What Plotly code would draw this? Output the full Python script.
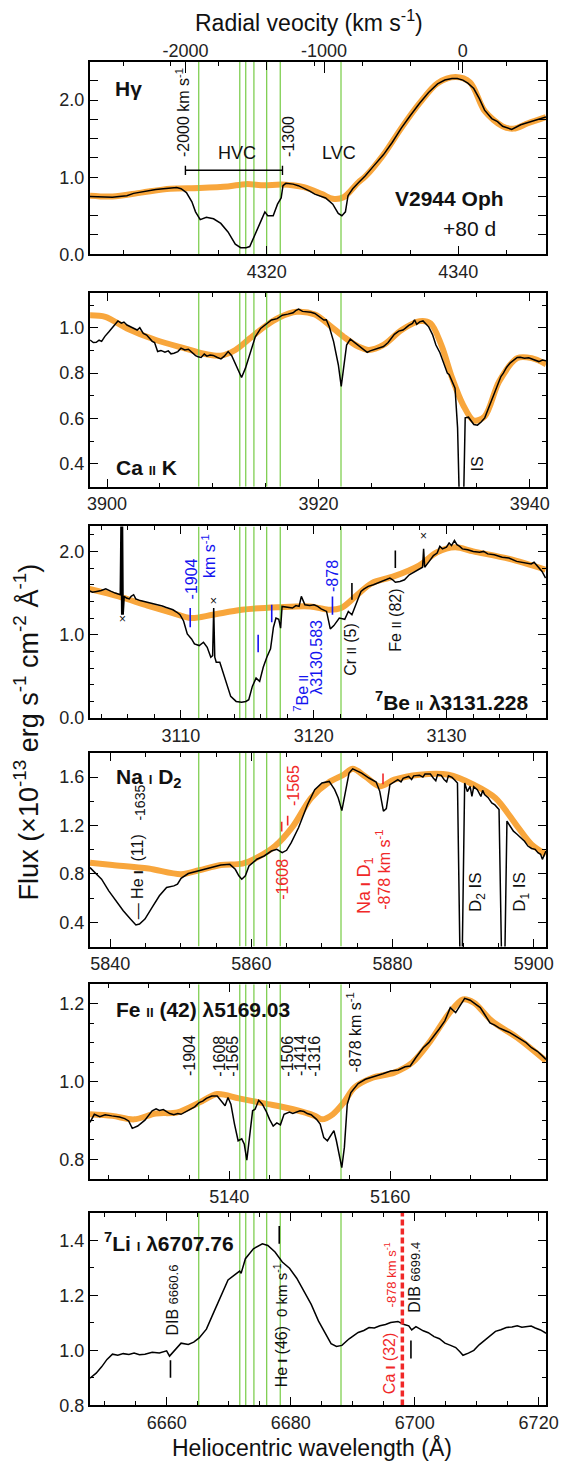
import plotly.graph_objects as go

C_KMS = 299792.458
VEL_RANGE = [-2688.0, 600.0]
HVC_VELS = [-1904, -1608, -1565, -1506, -1414, -1316, -878]
TOP_VEL_TICKS = [-2000, -1000, 0]

# ---------------- H gamma ----------------
hg_rest = 4340.47
hg_w = [4301.55, 4302.70, 4303.89, 4304.60, 4305.40, 4306.10, 4306.91, 4307.60, 4308.42, 4309.20,
        4310.11, 4310.60, 4311.06, 4311.62, 4312.19, 4312.57, 4313.06, 4313.70, 4314.45, 4315.21,
        4315.96, 4316.72, 4317.28, 4317.85, 4318.23, 4318.79, 4319.36, 4319.81, 4320.11, 4320.68,
        4321.13, 4321.51, 4321.70, 4322.00, 4322.75, 4323.30, 4323.88, 4324.50, 4325.02, 4325.60,
        4326.15, 4326.90, 4327.47, 4327.85, 4328.22, 4328.49, 4328.98, 4329.60, 4330.30, 4331.20,
        4332.18, 4333.10, 4334.07, 4335.00, 4335.96, 4336.90, 4337.84, 4338.60, 4339.35, 4339.90,
        4340.48, 4341.00, 4341.62, 4342.20, 4342.75, 4343.50, 4344.10, 4344.63, 4345.58, 4346.52,
        4347.30, 4348.03, 4349.16]
hg_f = [0.75, 0.745, 0.74, 0.75, 0.76, 0.79, 0.81, 0.825, 0.84, 0.85,
        0.86, 0.865, 0.85, 0.80, 0.68, 0.55, 0.45, 0.48, 0.46, 0.40,
        0.29, 0.13, 0.085, 0.085, 0.10, 0.25, 0.42, 0.55, 0.50, 0.50,
        0.65, 0.73, 0.89, 0.92, 0.91, 0.89, 0.86, 0.82, 0.78, 0.755,
        0.73, 0.65, 0.53, 0.50, 0.55, 0.76, 0.85, 0.93, 1.02, 1.15,
        1.29, 1.45, 1.64, 1.80, 1.96, 2.10, 2.21, 2.26, 2.28, 2.28,
        2.26, 2.22, 2.15, 2.02, 1.87, 1.76, 1.72, 1.66, 1.62, 1.68,
        1.71, 1.74, 1.78]
hg_cw = [4301.55, 4303.89, 4306.91, 4309.93, 4312.94, 4315.96, 4317.85, 4319.73, 4321.62, 4323.88,
         4325.77, 4326.90, 4328.03, 4329.54, 4330.30, 4332.18, 4334.07, 4335.96, 4337.84, 4339.73,
         4341.24, 4342.75, 4344.63, 4345.77, 4347.28, 4349.16]
hg_cf = [0.76, 0.75, 0.80, 0.85, 0.86, 0.88, 0.91, 0.895, 0.905, 0.87,
         0.78, 0.72, 0.74, 0.93, 1.01, 1.29, 1.64, 1.96, 2.22, 2.30,
         2.23, 1.86, 1.66, 1.63, 1.70, 1.78]

# ---------------- Ca II K ----------------
cak_rest = 3933.66
cak_w = [3898.40, 3898.70, 3898.98, 3899.25, 3899.49, 3899.80, 3900.18, 3900.55, 3901.03, 3901.35,
         3901.60, 3901.89, 3902.20, 3902.57, 3902.85, 3903.10, 3903.43, 3903.75, 3904.00, 3904.28,
         3904.50, 3904.79, 3905.10, 3905.48, 3905.80, 3906.05, 3906.33, 3906.70, 3907.00, 3907.36,
         3907.70, 3908.05, 3908.38, 3908.62, 3908.90, 3909.20, 3909.45, 3909.75, 3910.05, 3910.40,
         3910.78, 3911.10, 3911.46, 3911.80, 3912.05, 3912.32, 3912.73, 3913.10, 3913.51, 3914.03,
         3914.54, 3915.00, 3915.56, 3916.10, 3916.59, 3917.10, 3917.61, 3917.85, 3918.13, 3918.50,
         3918.98, 3919.30, 3919.67, 3920.10, 3920.52, 3920.75, 3921.03, 3921.44, 3921.89, 3922.16,
         3922.40, 3922.67, 3923.02, 3923.30, 3923.60, 3924.11, 3924.40, 3924.62, 3924.90, 3925.14,
         3925.60, 3926.16, 3926.60, 3926.90, 3927.19, 3927.60, 3928.00, 3928.21, 3928.55, 3928.90,
         3929.10, 3929.30, 3929.58, 3929.90, 3930.10, 3930.44, 3930.80, 3931.12, 3931.50, 3931.80,
         3932.10, 3932.20, 3932.38, 3932.93, 3933.17, 3933.41, 3933.68, 3933.89, 3934.20, 3934.71,
         3935.05, 3935.40, 3935.74, 3936.20, 3936.59, 3937.00, 3937.27, 3937.50, 3937.80, 3938.13,
         3938.50, 3938.81, 3939.10, 3939.50, 3939.90, 3940.35, 3940.60, 3940.86, 3941.20, 3941.55]
cak_f = [0.946, 0.935, 0.936, 0.945, 0.94, 0.962, 0.982, 1.005, 1.03, 1.02,
         1.025, 1.012, 1.005, 0.997, 0.99, 1.0, 0.975, 0.968, 0.955, 0.94,
         0.935, 0.895, 0.9, 0.892, 0.898, 0.885, 0.888, 0.895, 0.91, 0.902,
         0.905, 0.89, 0.877, 0.872, 0.869, 0.884, 0.875, 0.88, 0.878, 0.87,
         0.863, 0.875, 0.895, 0.877, 0.85, 0.822, 0.781, 0.822, 0.888, 0.96,
         0.997, 1.015, 1.034, 1.04, 1.055, 1.06, 1.066, 1.075, 1.082, 1.072,
         1.07, 1.068, 1.063, 1.05, 1.034, 1.035, 1.004, 0.939, 0.836, 0.742,
         0.822, 0.924, 0.95, 0.94, 0.931, 0.909, 0.90, 0.892, 0.898, 0.902,
         0.91, 0.917, 0.935, 0.955, 0.971, 0.985, 0.99, 0.997, 1.01, 1.019,
         1.035, 1.015, 1.026, 1.03, 1.02, 1.004, 0.97, 0.924, 0.89, 0.851,
         0.82, 0.80, 0.793, 0.734, 0.559, 0.10, 0.10, 0.603, 0.606, 0.574,
         0.571, 0.585, 0.603, 0.66, 0.705, 0.76, 0.785, 0.80, 0.825, 0.844,
         0.86, 0.869, 0.87, 0.866, 0.868, 0.861, 0.858, 0.851, 0.858, 0.854]
cak_cw = [3898.40, 3899.84, 3901.89, 3904.62, 3907.36, 3909.41, 3910.78, 3912.14, 3913.51, 3914.88,
          3916.25, 3917.96, 3919.67, 3921.03, 3922.40, 3923.77, 3924.79, 3926.16, 3927.87, 3929.58,
          3930.61, 3931.63, 3932.66, 3933.68, 3934.71, 3935.74, 3937.10, 3938.81, 3940.18, 3941.55]
cak_cf = [1.055, 1.048, 0.997, 0.946, 0.909, 0.883, 0.877, 0.902, 0.953, 1.004,
          1.044, 1.07, 1.058, 1.012, 0.96, 0.917, 0.902, 0.924, 0.99, 1.029,
          1.019, 0.924, 0.778, 0.661, 0.591, 0.61, 0.763, 0.866, 0.866, 0.839]

# ---------------- 7Be II ----------------
be_rest = 3131.228
be_w = [3103.06, 3103.35, 3103.66, 3104.00, 3104.34, 3104.55, 3104.75, 3105.05, 3105.35, 3105.43,
        3105.49, 3105.54, 3105.60, 3105.65, 3105.73, 3105.90, 3106.11, 3106.25, 3106.44, 3106.60,
        3106.93, 3107.20, 3107.50, 3107.75, 3108.02, 3108.30, 3108.60, 3108.85, 3109.11, 3109.40,
        3109.70, 3109.93, 3110.20, 3110.48, 3110.80, 3111.02, 3111.38, 3111.70, 3111.98, 3112.25,
        3112.39, 3112.47, 3112.55, 3112.66, 3112.93, 3113.34, 3113.75, 3114.16, 3114.57, 3114.89,
        3115.11, 3115.38, 3115.66, 3115.93, 3116.20, 3116.47, 3116.75, 3116.97, 3117.16, 3117.37,
        3117.51, 3117.62, 3118.11, 3118.40, 3118.66, 3118.90, 3119.07, 3119.34, 3119.70, 3120.02,
        3120.30, 3120.56, 3120.97, 3121.25, 3121.52, 3121.93, 3122.34, 3122.61, 3122.88, 3123.15,
        3123.56, 3123.80, 3124.11, 3124.50, 3124.93, 3125.30, 3125.74, 3125.95, 3126.15, 3126.50,
        3126.84, 3127.20, 3127.65, 3127.90, 3128.20, 3128.28, 3128.36, 3128.70, 3129.02, 3129.30,
        3129.50, 3129.70, 3130.00, 3130.20, 3130.38, 3130.60, 3130.79, 3131.00, 3131.20, 3131.60,
        3132.02, 3132.50, 3132.80, 3133.11, 3133.60, 3134.20, 3134.70, 3135.29, 3135.80, 3136.10,
        3136.38, 3136.60, 3136.92, 3137.20, 3137.47]
be_f = [1.53, 1.51, 1.52, 1.53, 1.55, 1.53, 1.52, 1.50, 1.49, 1.48,
        2.40, 1.24, 2.40, 1.24, 1.46, 1.44, 1.43, 1.46, 1.48, 1.43,
        1.41, 1.40, 1.39, 1.385, 1.37, 1.36, 1.345, 1.33, 1.32, 1.30,
        1.27, 1.24, 1.165, 1.01, 0.95, 0.89, 0.87, 0.91, 0.85, 0.73,
        0.75, 1.32, 0.73, 0.67, 0.67, 0.46, 0.26, 0.20, 0.19, 0.20,
        0.22, 0.38, 0.48, 0.44, 0.61, 0.73, 0.83, 1.09, 1.20, 1.185,
        1.08, 1.34, 1.33, 1.32, 1.35, 1.34, 1.46, 1.36, 1.35, 1.36,
        1.34, 1.31, 1.28, 1.07, 1.11, 1.20, 1.185, 1.28, 1.24, 1.36,
        1.52, 1.55, 1.58, 1.60, 1.63, 1.65, 1.68, 1.66, 1.63, 1.64,
        1.66, 1.72, 1.76, 1.78, 1.81, 2.03, 1.81, 1.88, 1.95, 1.98,
        2.06, 2.03, 2.05, 2.10, 2.07, 2.13, 2.08, 2.06, 2.03, 2.02,
        2.00, 1.99, 2.00, 1.97, 1.96, 1.93, 1.92, 1.88, 1.87, 1.86,
        1.85, 1.87, 1.81, 1.76, 1.68]
be_cw = [3103.06, 3105.30, 3107.48, 3109.39, 3110.75, 3112.39, 3114.57, 3117.29, 3119.75, 3121.11,
         3122.06, 3123.15, 3124.38, 3126.02, 3127.93, 3129.29, 3130.65, 3132.02, 3134.74, 3137.47]
be_cf = [1.55, 1.46, 1.35, 1.26, 1.20, 1.24, 1.30, 1.33, 1.34, 1.30,
         1.32, 1.46, 1.62, 1.70, 1.83, 1.99, 2.05, 2.00, 1.91, 1.78]

# ---------------- Na I D2 ----------------
na_rest = 5889.95
na_w = [5837.14, 5838.01, 5838.78, 5839.80, 5840.83, 5841.85, 5842.87, 5843.64, 5844.15, 5844.92,
        5845.94, 5846.97, 5847.99, 5849.02, 5849.53, 5850.04, 5851.06, 5852.60, 5854.13, 5855.67,
        5856.95, 5857.72, 5858.23, 5858.64, 5859.15, 5859.66, 5860.79, 5861.81, 5862.84, 5863.61,
        5864.37, 5864.99, 5865.65, 5866.68, 5867.96, 5868.98, 5870.00, 5871.03, 5871.80, 5872.31,
        5872.82, 5873.23, 5873.84, 5874.36, 5875.63, 5876.66, 5877.68, 5878.19, 5878.71, 5879.12,
        5879.63, 5880.75, 5881.20, 5881.50, 5882.29, 5882.70, 5883.00, 5883.83, 5884.30, 5884.60,
        5885.36, 5885.80, 5886.13, 5886.39, 5886.90, 5887.30, 5887.67, 5887.92, 5888.43, 5888.80,
        5889.20, 5889.56, 5889.87, 5890.22, 5890.60, 5890.99, 5891.25, 5891.50, 5892.01, 5892.52,
        5892.77, 5893.04, 5893.55, 5894.06, 5894.50, 5895.09, 5895.45, 5895.91, 5896.21, 5896.60,
        5897.13, 5897.60, 5898.16, 5898.70, 5899.18, 5899.70, 5900.21, 5900.60, 5900.98, 5901.23,
        5901.74]
na_f = [0.852, 0.797, 0.756, 0.66, 0.578, 0.496, 0.427, 0.378, 0.386, 0.427,
        0.523, 0.619, 0.688, 0.701, 0.715, 0.764, 0.803, 0.825, 0.852, 0.874,
        0.879, 0.838, 0.784, 0.756, 0.784, 0.866, 0.921, 0.948, 0.989, 1.003,
        0.975, 0.995, 1.058, 1.181, 1.373, 1.496, 1.551, 1.564, 1.496, 1.427,
        1.323, 1.455, 1.633, 1.668, 1.633, 1.592, 1.559, 1.482, 1.318, 1.34,
        1.537, 1.578, 1.56, 1.59, 1.605, 1.58, 1.61, 1.614, 1.60, 1.625,
        1.625, 1.59, 1.57, 1.62, 1.614, 1.58, 1.56, 1.61, 1.597, 1.575,
        1.551, 0.10, 0.10, 1.551, 1.48, 1.523, 1.44, 1.52, 1.496, 1.44,
        1.49, 1.455, 1.43, 1.386, 1.37, 1.332, 0.10, 0.10, 1.236, 1.20,
        1.153, 1.13, 1.099, 1.07, 1.03, 1.01, 1.003, 0.975, 0.962, 0.92,
        0.989]
na_cw = [5837.14, 5840.31, 5845.43, 5850.04, 5852.60, 5855.67, 5858.74, 5860.79, 5863.35, 5865.91,
         5868.47, 5871.03, 5873.07, 5874.36, 5876.15, 5878.19, 5880.24, 5883.83, 5887.92, 5891.50,
         5894.57, 5897.65, 5899.69, 5901.74]
na_cf = [0.893, 0.874, 0.844, 0.797, 0.83, 0.874, 0.885, 0.934, 1.03, 1.195,
         1.427, 1.559, 1.619, 1.668, 1.605, 1.523, 1.578, 1.619, 1.619, 1.537,
         1.427, 1.195, 1.044, 0.962]

# ---------------- Fe II (42) ----------------
fe_rest = 5169.03
fe_w = [5122.68, 5123.22, 5123.90, 5124.57, 5125.40, 5126.36, 5127.00, 5127.49, 5127.94, 5128.61,
        5129.51, 5130.00, 5130.41, 5130.90, 5131.31, 5131.80, 5132.21, 5132.60, 5133.10, 5133.60,
        5134.00, 5134.60, 5135.13, 5135.70, 5136.25, 5136.70, 5137.15, 5137.82, 5138.50, 5139.17,
        5139.48, 5139.84, 5140.20, 5140.65, 5141.10, 5141.55, 5141.87, 5142.18, 5142.54, 5142.90,
        5143.21, 5143.66, 5144.11, 5144.56, 5145.01, 5145.46, 5145.91, 5146.36, 5146.81, 5147.48,
        5147.90, 5148.38, 5148.80, 5149.28, 5149.70, 5150.18, 5150.85, 5151.30, 5151.75, 5152.20,
        5152.65, 5153.01, 5153.32, 5153.68, 5153.99, 5154.31, 5154.67, 5155.12, 5156.02, 5156.92,
        5157.60, 5158.27, 5159.10, 5160.06, 5161.00, 5161.86, 5162.50, 5163.21, 5164.11, 5164.80,
        5165.45, 5166.10, 5166.80, 5167.48, 5168.15, 5168.82, 5169.27, 5169.95, 5170.62, 5171.20,
        5171.74, 5172.42, 5173.00, 5173.54, 5174.20, 5174.89, 5175.50, 5176.24, 5176.90, 5177.58,
        5178.30, 5178.93, 5179.38]
fe_f = [0.895, 0.916, 0.91, 0.915, 0.912, 0.909, 0.905, 0.899, 0.880, 0.886,
        0.901, 0.915, 0.925, 0.93, 0.926, 0.928, 0.923, 0.918, 0.915, 0.918,
        0.916, 0.922, 0.929, 0.935, 0.946, 0.95, 0.957, 0.963, 0.963, 0.946,
        0.938, 0.959, 0.942, 0.891, 0.848, 0.853, 0.839, 0.798, 0.865, 0.925,
        0.929, 0.952, 0.942, 0.925, 0.903, 0.886, 0.894, 0.889, 0.916, 0.922,
        0.918, 0.921, 0.925, 0.923, 0.918, 0.915, 0.903, 0.891, 0.856, 0.848,
        0.861, 0.874, 0.848, 0.814, 0.779, 0.831, 0.942, 0.972, 0.995, 1.006,
        1.01, 1.015, 1.02, 1.027, 1.03, 1.038, 1.04, 1.062, 1.087, 1.10,
        1.117, 1.135, 1.156, 1.19, 1.177, 1.198, 1.214, 1.209, 1.198, 1.19,
        1.173, 1.151, 1.145, 1.138, 1.132, 1.126, 1.118, 1.109, 1.10, 1.087,
        1.078, 1.066, 1.057]
fe_cw = [5122.68, 5125.47, 5128.16, 5130.86, 5133.55, 5136.25, 5138.50, 5141.19, 5144.34, 5147.93,
         5150.63, 5151.52, 5152.87, 5154.22, 5155.57, 5157.81, 5160.51, 5162.76, 5165.00, 5167.25,
         5169.05, 5170.40, 5172.64, 5175.79, 5179.38]
fe_cf = [0.916, 0.912, 0.903, 0.918, 0.921, 0.946, 0.968, 0.957, 0.944, 0.929,
         0.912, 0.903, 0.916, 0.946, 0.985, 1.01, 1.023, 1.049, 1.104, 1.173,
         1.211, 1.203, 1.156, 1.113, 1.053]

# ---------------- 7Li I ----------------
li_rest = 6707.76
li_w = [6647.62, 6648.61, 6649.49, 6650.36, 6651.24, 6652.10, 6652.98, 6653.90, 6654.73, 6655.60,
        6656.48, 6657.65, 6658.81, 6659.98, 6660.45, 6660.86, 6661.73, 6662.31, 6663.48, 6664.35,
        6665.23, 6666.40, 6667.56, 6668.73, 6669.89, 6671.06, 6671.76, 6672.00, 6672.69, 6673.98,
        6675.43, 6676.31, 6677.47, 6678.64, 6679.81, 6680.97, 6682.14, 6683.31, 6684.47, 6685.64,
        6686.51, 6687.39, 6688.26, 6689.43, 6690.89, 6691.80, 6692.64, 6693.50, 6694.39, 6695.30,
        6696.13, 6697.30, 6698.17, 6699.05, 6699.52, 6700.21, 6701.38, 6702.20, 6703.13, 6704.00,
        6704.88, 6705.80, 6706.63, 6707.30, 6707.80, 6708.67, 6709.55, 6710.40, 6711.29, 6712.20,
        6713.04, 6713.90, 6714.79, 6715.70, 6716.54, 6717.30, 6718.00, 6718.80, 6719.46, 6720.30,
        6721.21]
li_f = [0.899, 0.917, 0.94, 0.967, 0.986, 0.982, 0.988, 0.985, 0.99, 0.984,
        0.986, 0.993, 0.99, 0.998, 0.979, 0.99, 1.014, 1.026, 1.021, 1.03,
        1.045, 1.077, 1.137, 1.196, 1.256, 1.276, 1.288, 1.28, 1.333, 1.369,
        1.387, 1.381, 1.357, 1.321, 1.298, 1.262, 1.214, 1.167, 1.107, 1.06,
        1.024, 1.014, 1.018, 1.042, 1.065, 1.072, 1.083, 1.081, 1.089, 1.094,
        1.101, 1.105, 1.095, 1.089, 1.074, 1.086, 1.071, 1.064, 1.05, 1.042,
        1.026, 1.018, 1.01, 0.995, 0.982, 0.99, 1.0, 1.02, 1.036, 1.055,
        1.069, 1.075, 1.083, 1.085, 1.089, 1.084, 1.086, 1.088, 1.081, 1.074,
        1.062]

# identification marks: (rest wavelength, velocity, y0, y1)
be_blue_marks = [(3130.583, -1904, 1.09, 1.32), (3130.583, -1414, 0.79, 1.00),
                 (3130.583, -1316, 1.15, 1.36), (3130.583, -878, 1.24, 1.46)]
be_black_marks = [(3122.88, 0, 1.42, 1.62), (3126.15, 0, 1.80, 2.01)]
na_red_marks = [(5895.92, -1608, 1.15, 1.23), (5895.92, -1565, 1.20, 1.28), (5895.92, -878, 1.54, 1.63)]
li_black_marks = [(6660.6, 0, 0.90, 0.964), (6678.15, 0, 1.387, 1.452), (6699.4, 0, 0.97, 1.036)]
ca_i_rest, ca_i_vel = 6717.69, -878

# ---------------- layout constants ----------------
W, H = 583, 1472
X_LEFT, X_RIGHT = 89.3, 557.3
FONT = "Liberation Sans, Arial, sans-serif"
ORANGE = "#F8A63C"
GREEN = "#80CF52"
BLUE = "#1414F0"
RED = "#F02828"
TICK_SIZE = 18

panels = [
    dict(rest=hg_rest, w=hg_w, f=hg_f, cw=hg_cw, cf=hg_cf, yr=[0, 2.5], ydt=1.0, ymn=0.25,
         xdt=20, xmn=5, px=(62, 256)),
    dict(rest=cak_rest, w=cak_w, f=cak_f, cw=cak_cw, cf=cak_cf, yr=[0.3, 1.153], ydt=0.2, ymn=0.1,
         xdt=20, xmn=5, px=(295, 490)),
    dict(rest=be_rest, w=be_w, f=be_f, cw=be_cw, cf=be_cf, yr=[0, 2.3], ydt=1.0, ymn=0.2,
         xdt=10, xmn=2, px=(530, 723)),
    dict(rest=na_rest, w=na_w, f=na_f, cw=na_cw, cf=na_cf, yr=[0.2, 1.8], ydt=0.4, ymn=0.2,
         xdt=20, xmn=5, px=(758, 953)),
    dict(rest=fe_rest, w=fe_w, f=fe_f, cw=fe_cw, cf=fe_cf, yr=[0.75, 1.25], ydt=0.2, ymn=0.05,
         xdt=20, xmn=5, px=(991, 1187)),
    dict(rest=li_rest, w=li_w, f=li_f, cw=None, cf=None, yr=[0.8, 1.5], ydt=0.2, ymn=0.1,
         xdt=20, xmn=5, px=(1221, 1415)),
]


def ax(i, k):
    return k if i == 1 else f"{k}{i}"


def shift(rest, v):
    return rest * (1.0 + v / C_KMS)


def sc(t, size=12):
    return f"<span style='font-size:{size}px'>{t}</span>"


fig = go.Figure()
layout = dict(width=W, height=H, margin=dict(l=0, r=0, t=0, b=0), autosize=False,
              paper_bgcolor="white", plot_bgcolor="white", showlegend=False,
              font=dict(family=FONT, color="#111"))

for i, p in enumerate(panels, start=1):
    xa, ya = ax(i, "x"), ax(i, "y")
    if p["cw"] is not None:
        fig.add_trace(go.Scatter(x=p["cw"], y=p["cf"], mode="lines", xaxis=xa, yaxis=ya,
                                 line=dict(color=ORANGE, width=6, shape="spline", smoothing=0.9),
                                 hoverinfo="skip"))
    for v in HVC_VELS:
        lam = shift(p["rest"], v)
        fig.add_trace(go.Scatter(x=[lam, lam], y=p["yr"], mode="lines", xaxis=xa, yaxis=ya,
                                 line=dict(color=GREEN, width=1.3), hoverinfo="skip"))
    fig.add_trace(go.Scatter(x=p["w"], y=p["f"], mode="lines", xaxis=xa, yaxis=ya,
                             line=dict(color="black", width=1.5)))
    top, bot = p["px"]
    rng = [shift(p["rest"], VEL_RANGE[0]), shift(p["rest"], VEL_RANGE[1])]
    layout["xaxis" if i == 1 else f"xaxis{i}"] = dict(
        domain=[X_LEFT / W, X_RIGHT / W], range=rng, anchor=ya,
        tick0=0, dtick=p["xdt"], ticks="inside", ticklen=8, tickwidth=1.3, tickcolor="black",
        minor=dict(dtick=p["xmn"], tick0=0, ticks="inside", ticklen=4, tickwidth=1.1, tickcolor="black"),
        showline=True, linecolor="black", linewidth=2, mirror="allticks",
        showgrid=False, zeroline=False, tickfont=dict(size=TICK_SIZE, color="#222"))
    layout["yaxis" if i == 1 else f"yaxis{i}"] = dict(
        domain=[1 - bot / H, 1 - top / H], range=p["yr"], anchor=xa,
        tick0=0, dtick=p["ydt"], tickformat=".1f", ticks="inside", ticklen=8, tickwidth=1.3,
        tickcolor="black",
        minor=dict(dtick=p["ymn"], tick0=0, ticks="inside", ticklen=4, tickwidth=1.1, tickcolor="black"),
        showline=True, linecolor="black", linewidth=2, mirror="allticks",
        showgrid=False, zeroline=False, tickfont=dict(size=TICK_SIZE, color="#222"))

# velocity axis along the top of the H gamma panel
fig.add_trace(go.Scatter(x=TOP_VEL_TICKS, y=[None] * len(TOP_VEL_TICKS), xaxis="x7", yaxis="y",
                         mode="markers", marker=dict(opacity=0), hoverinfo="skip"))
layout["xaxis7"] = dict(overlaying="x", side="top", anchor="y", range=VEL_RANGE,
                        tickvals=TOP_VEL_TICKS, ticktext=[str(v) for v in TOP_VEL_TICKS],
                        ticks="inside", ticklen=11, tickwidth=1.3, tickcolor="black",
                        showline=False, showgrid=False, zeroline=False,
                        tickfont=dict(size=TICK_SIZE, color="#222"))

# HVC range bracket in the H gamma panel
hvc_lo, hvc_hi = shift(hg_rest, -2000), shift(hg_rest, -1300)
fig.add_trace(go.Scatter(x=[hvc_lo, hvc_lo, None, hvc_lo, hvc_hi, None, hvc_hi, hvc_hi],
                         y=[1.03, 1.15, None, 1.09, 1.09, None, 1.03, 1.15],
                         mode="lines", xaxis="x", yaxis="y", line=dict(color="black", width=1.4)))


def marks(lst, xa, ya, color):
    xs, ys = [], []
    for rest, v, y0, y1 in lst:
        lam = shift(rest, v)
        xs += [lam, lam, None]
        ys += [y0, y1, None]
    fig.add_trace(go.Scatter(x=xs, y=ys, mode="lines", xaxis=xa, yaxis=ya,
                             line=dict(color=color, width=1.6), hoverinfo="skip"))


marks(be_blue_marks, "x3", "y3", BLUE)
marks(be_black_marks, "x3", "y3", "black")
marks(na_red_marks, "x4", "y4", RED)
marks(li_black_marks, "x6", "y6", "black")

ca_lam = shift(ca_i_rest, ca_i_vel)
fig.add_trace(go.Scatter(x=[ca_lam, ca_lam], y=panels[5]["yr"], mode="lines", xaxis="x6", yaxis="y6",
                         line=dict(color=RED, width=3.5, dash="6px,3px"), hoverinfo="skip"))

annotations = []


def note(i, x, y, text, size=16, color="#111", rot=False, xanchor=None, yanchor=None):
    a = dict(xref=ax(i, "x"), yref=ax(i, "y"), x=x, y=y, text=text, showarrow=False,
             font=dict(size=size, color=color, family=FONT))
    if rot:
        a["textangle"] = -90
        a["xanchor"] = xanchor or "center"
        a["yanchor"] = yanchor or "bottom"
    else:
        a["xanchor"] = xanchor or "center"
        a["yanchor"] = yanchor or "middle"
    annotations.append(a)


II = sc("II", 13)
I1 = sc("I", 13)
BOLD = 21

# H gamma
note(1, 4304.0, 2.15, "<b>Hγ</b>", BOLD, xanchor="left")
note(1, 4339.05, 0.72, "<b>V2944 Oph</b>", BOLD)
note(1, 4341.2, 0.33, "+80 d", 21)
note(1, 4316.9, 1.31, "HVC", 18)
note(1, 4327.6, 1.31, "LVC", 18)
note(1, 4311.25, 1.24, "-2000 km s<sup>-1</sup>", 16, rot=True)
note(1, 4322.2, 1.24, "-1300", 16, rot=True)
# Ca II K
note(2, 3900.7, 0.385, f"<b>Ca {II} K</b>", BOLD, xanchor="left")
note(2, 3935.1, 0.36, "IS", 16, rot=True)
# Be II
note(3, 3110.8, 1.40, "-1904", 16, BLUE, rot=True)
note(3, 3112.06, 1.66, "km s<sup>-1</sup>", 16, BLUE, rot=True)
note(3, 3121.46, 1.49, "-878", 16, BLUE, rot=True)
note(3, 3119.07, 0.05, f"<sup>7</sup>Be {sc('II', 12)}", 16, BLUE, rot=True)
note(3, 3120.24, 0.26, "λ3130.583", 16, BLUE, rot=True)
note(3, 3122.75, 0.48, f"Cr {II} (5)", 16, rot=True)
note(3, 3126.15, 0.77, f"Fe {II} (82)", 16, rot=True)
note(3, 3130.44, 0.20, f"<b><sup>7</sup>Be {II} λ3131.228</b>", BOLD)
for xx, yy in [(3105.62, 1.185), (3112.44, 1.40), (3128.25, 2.19)]:
    note(3, xx, yy, "×", 12)
# Na I D2
note(4, 5840.57, 1.59, f"<b>Na {I1} D<sub>2</sub></b>", BOLD, xanchor="left")
note(4, 5843.9, 0.41, f"— He <b>{I1}</b>  (11)", 16, rot=True)
note(4, 5844.3, 1.22, "-1635", 14, rot=True)
note(4, 5865.9, 1.34, "-1565", 16, RED, rot=True)
note(4, 5864.4, 0.94, "-1608", 16, RED, rot=True, yanchor="top")
note(4, 5876.15, 0.45, f"Na <b>{I1}</b> D<sub>1</sub>", 18, RED, rot=True)
note(4, 5878.7, 0.49, "-878 km s<sup>-1</sup>", 16, RED, rot=True)
note(4, 5892.0, 0.47, "D<sub>2</sub> IS", 17, rot=True)
note(4, 5898.2, 0.47, "D<sub>1</sub> IS", 17, rot=True)
# Fe II
note(5, 5125.69, 1.185, f"<b>Fe {II} (42) λ5169.03</b>", BOLD, xanchor="left")
for xx, t in [(5135.13, "-1904"), (5138.81, "-1608"), (5140.43, "-1565"),
              (5147.26, "-1506"), (5148.92, "-1414"), (5150.63, "-1316")]:
    note(5, xx, 1.008, t, 16, rot=True)
note(5, 5155.48, 1.018, "-878 km s<sup>-1</sup>", 16, rot=True)
# Li I
note(6, 6649.5, 1.393, f"<b><sup>7</sup>Li {I1} λ6707.76</b>", BOLD, xanchor="left")
note(6, 6660.86, 1.045, f"DIB {sc('6660.6', 13)}", 16, rot=True)
note(6, 6678.35, 0.86, f"He <b>{I1}</b> (46)  {sc('0 km s<sup>-1</sup>', 15)}", 16, rot=True)
note(6, 6695.84, 0.835, f"Ca <b>{I1}</b> (32)", 16, RED, rot=True)
note(6, 6696.0, 1.15, "-878 km s<sup>-1</sup>", 13, RED, rot=True)
note(6, 6699.92, 1.128, f"DIB {sc('6699.4', 13)}", 16, rot=True)

# figure-level titles
annotations.append(dict(xref="paper", yref="paper", x=314 / W, y=1 - 21 / H,
                        text="Radial veocity (km s<sup>-1</sup>)", showarrow=False,
                        font=dict(size=23, color="#111", family=FONT), xanchor="center", yanchor="middle"))
annotations.append(dict(xref="paper", yref="paper", x=317 / W, y=1 - 1457 / H,
                        text="Heliocentric wavelength (Å)", showarrow=False,
                        font=dict(size=23, color="#111", family=FONT), xanchor="center", yanchor="middle"))
annotations.append(dict(xref="paper", yref="paper", x=24 / W, y=1 - 737 / H, textangle=-90,
                        text="Flux (×10<sup>-13</sup> erg s<sup>-1</sup> cm<sup>-2</sup> Å<sup>-1</sup>)",
                        showarrow=False, font=dict(size=27, color="#111", family=FONT),
                        xanchor="center", yanchor="middle"))

layout["annotations"] = annotations
fig.update_layout(**layout)

# keep the page exactly the size of the figure (no body margin, no scrollbars)
page_css = ("document.documentElement.style.margin='0';document.body.style.margin='0';"
            "document.body.style.padding='0';document.documentElement.style.overflow='hidden';"
            "document.body.style.overflow='hidden';")
fig.write_html("out.html", config={"responsive": False}, post_script=page_css)
